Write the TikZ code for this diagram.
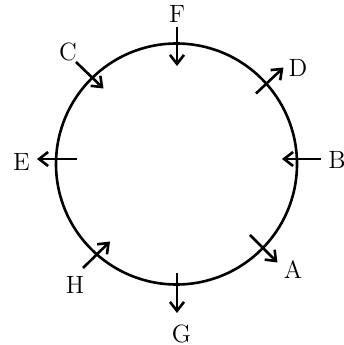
\documentclass[tikz,border=0pt]{standalone}
\usepackage{tikz}
\usetikzlibrary{arrows.meta}

\begin{document}
\begin{tikzpicture}[x=0.5pt, y=0.5pt, >={Straight Barb[length=4.5pt,width=7pt]}, line width=1.3pt,
    letter/.style={font=\fontsize{12.5}{15}\selectfont, inner sep=0pt}]
        \useasboundingbox (0,0) rectangle (344,345);
        % Ring
        \coordinate (O) at (176.5,181);
        \draw (O) circle[radius=120.5];
        % Arrow ends
        \coordinate (F1) at (177,318); \coordinate (F2) at (177,279);
        \coordinate (G1) at (177,72);  \coordinate (G2) at (177,32);
        \coordinate (E1) at (77,186);  \coordinate (E2) at (37,186);
        \coordinate (B1) at (321,186); \coordinate (B2) at (282,186);
        \coordinate (C1) at (76,283);  \coordinate (C2) at (103.5,256.5);
        \coordinate (D1) at (256,251.5); \coordinate (D2) at (283.5,277.5);
        \coordinate (A1) at (250,110); \coordinate (A2) at (277.5,82.5);
        \coordinate (H1) at (83,77);   \coordinate (H2) at (110,103.5);
        % Arrows across the ring
        \draw [->] (F1) -- (F2);
        \draw [->] (G1) -- (G2);
        \draw [->] (E1) -- (E2);
        \draw [->] (B1) -- (B2);
        \draw [->] (C1) -- (C2);
        \draw [->] (D1) -- (D2);
        \draw [->] (A1) -- (A2);
        \draw [->] (H1) -- (H2);
        % Labels
        \node [letter] (F) at (177,331) {F};
        \node [letter] (G) at (181.5,11.5) {G};
        \node [letter] (E) at (21.5,183) {E};
        \node [letter, anchor=west] (B) at (327,185) {B};
        \node [letter] (C) at (68,293) {C};
        \node [letter] (D) at (298,277) {D};
        \node [letter] (A) at (293,75) {A};
        \node [letter] (H) at (75,60) {H};
    \end{tikzpicture}
\end{document}
